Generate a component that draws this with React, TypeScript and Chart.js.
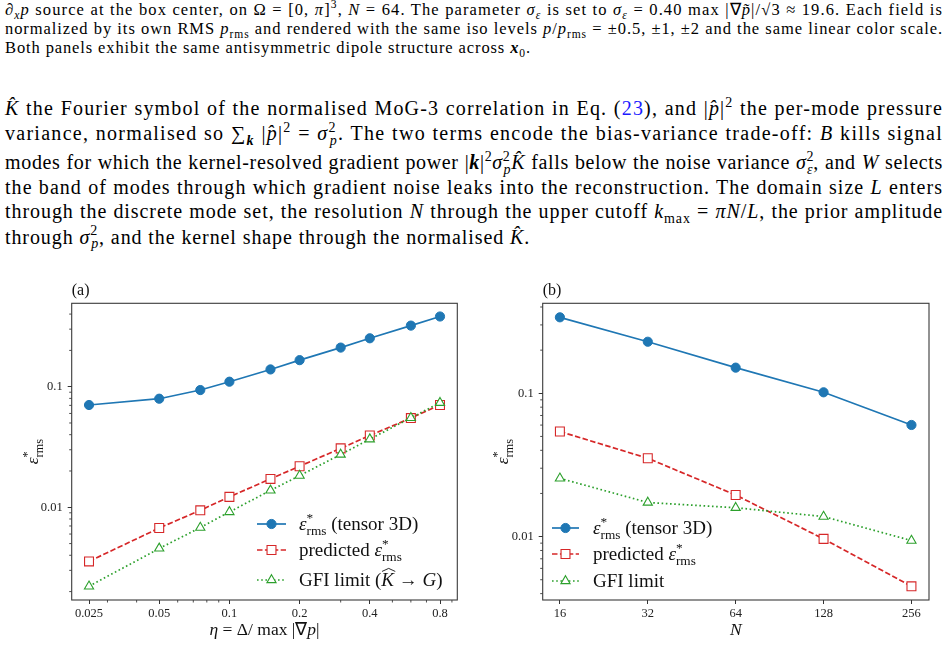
import React, { useEffect, useLayoutEffect, useRef } from "react";
import { Chart, registerables } from "chart.js";
import { drawPoint } from "chart.js/helpers";

Chart.register(...registerables);

// ---------------- DATA ----------------
const etaValues = [0.025, 0.05, 0.075, 0.1, 0.15, 0.2, 0.3, 0.4, 0.6, 0.8];
const etaTensor = [0.0705, 0.0795, 0.0938, 0.11, 0.139, 0.166, 0.211, 0.252, 0.321, 0.382];
const etaPredicted = [0.00356, 0.00673, 0.00944, 0.0122, 0.0172, 0.0219, 0.0308, 0.0394, 0.0549, 0.0705];
const etaGfi = [0.00221, 0.00456, 0.00678, 0.00915, 0.0138, 0.0183, 0.0274, 0.0367, 0.0552, 0.0736];

const nValues = [16, 32, 64, 128, 256];
const nTensor = [0.339, 0.229, 0.151, 0.1016, 0.0601];
const nPredicted = [0.0541, 0.0352, 0.0195, 0.00964, 0.0045];
const nGfi = [0.0255, 0.0173, 0.0159, 0.0138, 0.00938];

const etaTickValues = [0.025, 0.05, 0.1, 0.2, 0.4, 0.8];
const etaTickLabels = ["0.025", "0.05", "0.1", "0.2", "0.4", "0.8"];
const etaMinorTicks = [0.03, 0.04, 0.06, 0.07, 0.08, 0.09, 0.3, 0.5, 0.6, 0.7, 0.9];
const nTickValues = [16, 32, 64, 128, 256];
const nTickLabels = ["16", "32", "64", "128", "256"];
const errTickValues = [0.01, 0.1];
const errTickLabels = ["0.01", "0.1"];
const errMinorTicksA = [0.002, 0.003, 0.004, 0.005, 0.006, 0.007, 0.008, 0.009, 0.02, 0.03, 0.04, 0.05, 0.06, 0.07, 0.08, 0.09, 0.2, 0.3, 0.4];
const errMinorTicksB = [0.004, 0.005, 0.006, 0.007, 0.008, 0.009, 0.02, 0.03, 0.04, 0.05, 0.06, 0.07, 0.08, 0.09, 0.2, 0.3, 0.4];

const BLUE = "#1f77b4";
const RED = "#d62728";
const GREEN = "#2ca02c";
const FONT = "'Liberation Serif', 'Times New Roman', serif";

// ---------------- RICH TEXT ON CANVAS ----------------
type Seg = { t: string; it?: boolean; sc?: number; dy?: number; noAdv?: boolean; hat?: boolean };

function segFont(size: number, s: Seg) {
  return `${s.it ? "italic " : ""}${size * (s.sc ?? 1)}px ${FONT}`;
}
function measureRich(ctx: CanvasRenderingContext2D, segs: Seg[], size: number) {
  let w = 0;
  for (const s of segs) {
    ctx.font = segFont(size, s);
    if (!s.noAdv) w += ctx.measureText(s.t).width;
  }
  return w;
}
function drawRich(ctx: CanvasRenderingContext2D, segs: Seg[], x: number, y: number, size: number, align: "left" | "center" = "left") {
  let cx = align === "center" ? x - measureRich(ctx, segs, size) / 2 : x;
  ctx.textAlign = "left";
  ctx.textBaseline = "alphabetic";
  for (const s of segs) {
    ctx.font = segFont(size, s);
    const yy = y + (s.dy ?? 0) * size;
    ctx.fillText(s.t, cx, yy);
    const w = ctx.measureText(s.t).width;
    if (s.hat) {
      ctx.save();
      ctx.strokeStyle = ctx.fillStyle as string;
      ctx.lineWidth = 0.9;
      ctx.beginPath();
      ctx.moveTo(cx + 0.05 * w, yy - 0.74 * size);
      ctx.lineTo(cx + 0.58 * w, yy - 0.9 * size);
      ctx.lineTo(cx + 1.1 * w, yy - 0.74 * size);
      ctx.stroke();
      ctx.restore();
    }
    if (!s.noAdv) cx += w;
  }
}

const epsRms: Seg[] = [
  { t: "ε", it: true },
  { t: "*", sc: 0.7, dy: -0.4, noAdv: true },
  { t: "rms", sc: 0.7, dy: 0.3 },
];

// ---------------- PANEL CONFIG ----------------
type PanelCfg = {
  xs: number[];
  tensor: number[];
  predicted: number[];
  gfi: number[];
  xMin: number; xMax: number; yMin: number; yMax: number;
  xTicks: number[]; xLabels: string[]; xMinor: number[];
  yMinor: number[];
  width: number; height: number;
  padRight: number; yAxisWidth: number;
  panelLabel: string;
  xTitle: Seg[];
  legendText: Seg[][];
  legendX0: number; legendX1: number; legendTextX: number; legendRows: number[];
};

const panelA: PanelCfg = {
  xs: etaValues, tensor: etaTensor, predicted: etaPredicted, gfi: etaGfi,
  xMin: 0.02107, xMax: 0.949, yMin: 0.001703, yMax: 0.4915,
  xTicks: etaTickValues, xLabels: etaTickLabels, xMinor: etaMinorTicks,
  yMinor: errMinorTicksA,
  width: 470, height: 376, padRight: 12.7, yAxisWidth: 71.7,
  panelLabel: "(a)",
  xTitle: [{ t: "η", it: true }, { t: " = Δ/ max |∇" }, { t: "p", it: true }, { t: "|" }],
  legendText: [
    [...epsRms, { t: " (tensor 3D)" }],
    [{ t: "predicted " }, ...epsRms],
    [{ t: "GFI limit (" }, { t: "K", it: true, hat: true }, { t: " → " }, { t: "G", it: true }, { t: ")" }],
  ],
  legendX0: 257, legendX1: 286, legendTextX: 299, legendRows: [254, 280, 310],
};

const panelB: PanelCfg = {
  xs: nValues, tensor: nTensor, predicted: nPredicted, gfi: nGfi,
  xMin: 13.97, xMax: 294, yMin: 0.00361, yMax: 0.4246,
  xTicks: nTickValues, xLabels: nTickLabels, xMinor: [],
  yMinor: errMinorTicksB,
  width: 478, height: 376, padRight: 19, yAxisWidth: 72.7,
  panelLabel: "(b)",
  xTitle: [{ t: "N", it: true }],
  legendText: [
    [...epsRms, { t: " (tensor 3D)" }],
    [{ t: "predicted " }, ...epsRms],
    [{ t: "GFI limit" }],
  ],
  legendX0: 82, legendX1: 109, legendTextX: 123, legendRows: [258, 284, 311],
};

function labelFor(values: number[], labels: string[], v: number) {
  const i = values.findIndex((t) => Math.abs(t - v) / t < 1e-6);
  return i >= 0 ? labels[i] : "";
}

function PanelChart({ cfg }: { cfg: PanelCfg }) {
  const ref = useRef<HTMLCanvasElement | null>(null);
  useEffect(() => {
    if (!ref.current) return;
    const pts = (ys: number[]) => cfg.xs.map((x, i) => ({ x, y: ys[i] }));
    const decor = {
      id: "decor",
      afterDraw(chart: any) {
        const ctx: CanvasRenderingContext2D = chart.ctx;
        const ca = chart.chartArea;
        const xs = chart.scales.x;
        const ys = chart.scales.y;
        ctx.save();
        // frame
        ctx.strokeStyle = "#3a3a3a";
        ctx.lineWidth = 1.1;
        ctx.strokeRect(ca.left, ca.top, ca.right - ca.left, ca.bottom - ca.top);
        // minor ticks
        ctx.lineWidth = 0.9;
        ctx.beginPath();
        for (const v of cfg.xMinor) {
          const p = xs.getPixelForValue(v);
          if (p < ca.left || p > ca.right) continue;
          ctx.moveTo(p, ca.bottom);
          ctx.lineTo(p, ca.bottom + 2.5);
        }
        for (const v of cfg.yMinor) {
          const p = ys.getPixelForValue(v);
          if (p < ca.top || p > ca.bottom) continue;
          ctx.moveTo(ca.left, p);
          ctx.lineTo(ca.left - 2.5, p);
        }
        ctx.stroke();
        // texts
        ctx.fillStyle = "#111";
        ctx.font = `16px ${FONT}`;
        ctx.textAlign = "left";
        ctx.textBaseline = "alphabetic";
        ctx.fillText(cfg.panelLabel, ca.left, 25);
        drawRich(ctx, cfg.xTitle, (ca.left + ca.right) / 2, 365, 17.5, "center");
        // y title rotated
        ctx.save();
        ctx.translate(37.5, (ca.top + ca.bottom) / 2);
        ctx.rotate(-Math.PI / 2);
        drawRich(ctx, epsRms, 0, 0, 17.5, "center");
        ctx.restore();
        // legend
        chart.data.datasets.forEach((ds: any, i: number) => {
          const y = cfg.legendRows[i];
          ctx.save();
          ctx.strokeStyle = ds.borderColor;
          ctx.lineWidth = ds.borderWidth;
          ctx.setLineDash(ds.borderDash || []);
          ctx.beginPath();
          ctx.moveTo(cfg.legendX0, y);
          ctx.lineTo(cfg.legendX1, y);
          ctx.stroke();
          ctx.setLineDash([]);
          ctx.fillStyle = ds.pointBackgroundColor;
          ctx.strokeStyle = ds.pointBorderColor;
          ctx.lineWidth = ds.pointBorderWidth;
          drawPoint(ctx, { pointStyle: ds.pointStyle, radius: ds.pointRadius, rotation: 0, borderWidth: ds.pointBorderWidth } as any, (cfg.legendX0 + cfg.legendX1) / 2, y);
          ctx.restore();
          ctx.fillStyle = "#111";
          drawRich(ctx, cfg.legendText[i], cfg.legendTextX, y + 5.5, 19, "left");
        });
        ctx.restore();
      },
    };
    const chart = new Chart(ref.current, {
      type: "line",
      data: {
        datasets: [
          {
            label: "tensor 3D",
            data: pts(cfg.tensor),
            borderColor: BLUE,
            backgroundColor: BLUE,
            borderWidth: 1.7,
            pointStyle: "circle",
            pointRadius: 4.6,
            pointBackgroundColor: BLUE,
            pointBorderColor: BLUE,
            pointBorderWidth: 1,
            order: 2,
          },
          {
            label: "predicted",
            data: pts(cfg.predicted),
            borderColor: RED,
            backgroundColor: RED,
            borderWidth: 1.7,
            borderDash: [5.5, 2.4],
            pointStyle: "rect",
            pointRadius: 6.3,
            pointBackgroundColor: "#ffffff",
            pointBorderColor: RED,
            pointBorderWidth: 1.1,
            order: 1,
          },
          {
            label: "GFI limit",
            data: pts(cfg.gfi),
            borderColor: GREEN,
            backgroundColor: GREEN,
            borderWidth: 1.7,
            borderDash: [1.6, 2.6],
            pointStyle: "triangle",
            pointRadius: 5.3,
            pointBackgroundColor: "#ffffff",
            pointBorderColor: GREEN,
            pointBorderWidth: 1.1,
            order: 0,
          },
        ] as any,
      },
      options: {
        animation: false,
        responsive: false,
        maintainAspectRatio: false,
        events: [],
        layout: { padding: { left: 0, top: 33.3, right: cfg.padRight, bottom: 0 } },
        plugins: { legend: { display: false }, tooltip: { enabled: false }, title: { display: false } },
        scales: {
          x: {
            type: "logarithmic",
            min: cfg.xMin,
            max: cfg.xMax,
            afterFit: (s: any) => { s.height = 46; },
            afterBuildTicks: (s: any) => { s.ticks = cfg.xTicks.map((v) => ({ value: v })); },
            ticks: {
              callback: (v: any) => labelFor(cfg.xTicks, cfg.xLabels, Number(v)),
              font: { size: 12.5, family: FONT },
              color: "#222",
              padding: 2,
              maxRotation: 0,
              autoSkip: false,
            },
            grid: { display: true, drawOnChartArea: false, drawTicks: true, tickLength: 4, tickColor: "#333", tickWidth: 1 },
            border: { display: false },
          },
          y: {
            type: "logarithmic",
            min: cfg.yMin,
            max: cfg.yMax,
            afterFit: (s: any) => { s.width = cfg.yAxisWidth; },
            afterBuildTicks: (s: any) => { s.ticks = errTickValues.map((v) => ({ value: v })); },
            ticks: {
              callback: (v: any) => labelFor(errTickValues, errTickLabels, Number(v)),
              font: { size: 12.5, family: FONT },
              color: "#222",
              padding: 5,
              autoSkip: false,
            },
            grid: { display: true, drawOnChartArea: false, drawTicks: true, tickLength: 4, tickColor: "#333", tickWidth: 1 },
            border: { display: false },
          },
        },
      } as any,
      plugins: [decor],
    });
    return () => chart.destroy();
  }, [cfg]);
  return <canvas ref={ref} width={cfg.width} height={cfg.height} style={{ display: "block", width: cfg.width, height: cfg.height }} />;
}

// ---------------- HTML TEXT HELPERS ----------------
function SS({ sup, sub }: { sup: string; sub: string }) {
  return (
    <>
      <sup>{sup}</sup>
      <sub style={{ marginLeft: "-0.5em" }}><i>{sub}</i></sub>
    </>
  );
}
function Khat() {
  return <i>K&#770;</i>;
}

const css = `
body { margin: 0; background: #fff; }
.ln { position: absolute; left: 5px; width: 938px; text-align: justify; text-align-last: justify; font-family: ${FONT}; color: #000; }
.ln.last { text-align-last: left; }
.p1 { font-size: 16.5px; line-height: 18px; }
.p2 { font-size: 20px; line-height: 24px; }
.ln sup, .ln sub { font-size: 0.7em; line-height: 0; position: relative; vertical-align: baseline; }
.ln sup { top: -0.6em; }
.ln sub { top: 0.35em; }
`;

function Line({ cls, top, target, children }: { cls: string; top: number; target: number; children: React.ReactNode }) {
  return (
    <div className={"ln " + cls} style={{ top }} data-target={target}>
      <span>{children}</span>
    </div>
  );
}

export default function App() {
  const textRef = useRef<HTMLDivElement | null>(null);
  useLayoutEffect(() => {
    const root = textRef.current;
    if (!root) return;
    root.querySelectorAll<HTMLDivElement>(".ln").forEach((el) => {
      const inner = el.firstElementChild as HTMLElement;
      const target = Number(el.dataset.target);
      el.style.letterSpacing = "0px";
      el.style.whiteSpace = "nowrap";
      el.style.textAlign = "left";
      el.style.textAlignLast = "left";
      const w = inner.getBoundingClientRect().width;
      const n = (el.textContent || "").length;
      const ls = (target - 4 - w) / Math.max(n, 1);
      el.style.letterSpacing = `${ls.toFixed(3)}px`;
      el.style.whiteSpace = "";
      el.style.textAlign = "";
      el.style.textAlignLast = "";
    });
  }, []);
  return (
    <div style={{ position: "relative", width: 948, height: 646, overflow: "hidden", background: "#fff" }}>
      <style>{css}</style>
      <div ref={textRef}>
        <Line cls="p1" top={1.1} target={938}>
          <i>∂</i><sub><i>x</i></sub><i>p</i> source at the box center, on Ω = [0, <i>π</i>]<sup>3</sup>, <i>N</i> = 64. The parameter <i>σ</i><sub><i>ε</i></sub> is set to <i>σ</i><sub><i>ε</i></sub> = 0.40 max |∇<i>p̃</i>|/√<span style={{ textDecoration: "overline" }}>3</span> ≈ 19.6. Each field is
        </Line>
        <Line cls="p1" top={19.7} target={938}>
          normalized by its own RMS <i>p</i><sub>rms</sub> and rendered with the same iso levels <i>p</i>/<i>p</i><sub>rms</sub> = ±0.5, ±1, ±2 and the same linear color scale.
        </Line>
        <Line cls="p1 last" top={38.7} target={530}>
          Both panels exhibit the same antisymmetric dipole structure across <b><i>x</i></b><sub>0</sub>.
        </Line>

        <Line cls="p2" top={96.2} target={938}>
          <Khat /> the Fourier symbol of the normalised MoG-3 correlation in Eq. (<span style={{ color: "#1a1aff" }}>23</span>), and |<i>p̂</i>|<sup>2</sup> the per-mode pressure
        </Line>
        <Line cls="p2" top={121.2} target={938}>
          variance, normalised so ∑<sub><b><i>k</i></b></sub> |<i>p̂</i>|<sup>2</sup> = <i>σ</i><SS sup="2" sub="p" />. The two terms encode the bias-variance trade-off: <i>B</i> kills signal
        </Line>
        <Line cls="p2" top={150.2} target={938}>
          modes for which the kernel-resolved gradient power |<b><i>k</i></b>|<sup>2</sup><i>σ</i><SS sup="2" sub="p" /><Khat /> falls below the noise variance <i>σ</i><SS sup="2" sub="ε" />, and <i>W</i> selects
        </Line>
        <Line cls="p2" top={174.5} target={938}>
          the band of modes through which gradient noise leaks into the reconstruction. The domain size <i>L</i> enters
        </Line>
        <Line cls="p2" top={198.9} target={938}>
          through the discrete mode set, the resolution <i>N</i> through the upper cutoff <i>k</i><sub>max</sub> = <i>πN</i>/<i>L</i>, the prior amplitude
        </Line>
        <Line cls="p2 last" top={224.5} target={530}>
          through <i>σ</i><SS sup="2" sub="p" />, and the kernel shape through the normalised <Khat />.
        </Line>
      </div>

      <div style={{ position: "absolute", left: 0, top: 270 }}>
        <PanelChart cfg={panelA} />
      </div>
      <div style={{ position: "absolute", left: 470, top: 270 }}>
        <PanelChart cfg={panelB} />
      </div>
    </div>
  );
}
